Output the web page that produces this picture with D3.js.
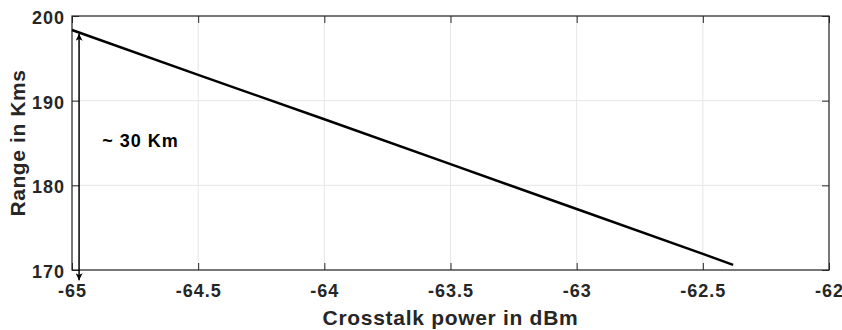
<!DOCTYPE html>
<html>
<head>
<meta charset="utf-8">
<script src="https://cdn.jsdelivr.net/npm/d3@7"></script>
<style>
  html, body { margin: 0; padding: 0; background: #fff; }
  svg { display: block; font-family: "Liberation Sans", Arial, sans-serif; }
</style>
</head>
<body>
<svg id="chart" width="842" height="330"></svg>
<script>
// Range versus crosstalk power
const crosstalkDbm = [-65, -64.5, -64, -63.5, -63, -62.5, -62.38];
const rangeKm      = [198.35, 193.05, 187.8, 182.5, 177.2, 171.9, 170.6];

const xTicks = [-65, -64.5, -64, -63.5, -63, -62.5, -62];
const yTicks = [170, 180, 190, 200];

// Double-headed span marker and its note
const spanX = [-64.972, -64.972];
const spanY = [197.9, 168.8];
const spanNote = "~ 30 Km";
const spanNoteAt = [-64.88, 184.5];

const xLabel = "Crosstalk power in dBm";
const yLabel = "Range in Kms";

const W = 842, H = 330;
const m = { left: 72, right: 13, top: 16, bottom: 60 };
const pw = W - m.left - m.right, ph = H - m.top - m.bottom;
const ink = "#262626";
const plain = d => String(d);   // keeps ASCII hyphen-minus

const svg = d3.select("#chart");
const defs = svg.append("defs");
["start", "end"].forEach(k => {
  defs.append("marker")
    .attr("id", "head-" + k)
    .attr("viewBox", "0 0 10 10")
    .attr("refX", 10).attr("refY", 5)
    .attr("markerWidth", 10).attr("markerHeight", 7)
    .attr("markerUnits", "userSpaceOnUse")
    .attr("orient", k === "start" ? "auto-start-reverse" : "auto")
    .append("path").attr("d", "M0,0 L10,5 L0,10 L2.5,5 Z").attr("fill", "#000");
});

const x = d3.scaleLinear().domain([-65, -62]).range([0, pw]);
const y = d3.scaleLinear().domain([170, 200]).range([ph, 0]);

const g = svg.append("g").attr("transform", `translate(${m.left},${m.top})`);

// grid
g.append("g").selectAll("line").data(xTicks).join("line")
  .attr("x1", d => x(d)).attr("x2", d => x(d)).attr("y1", 0).attr("y2", ph)
  .attr("stroke", "#e6e6e6").attr("stroke-width", 1);
g.append("g").selectAll("line").data(yTicks).join("line")
  .attr("y1", d => y(d)).attr("y2", d => y(d)).attr("x1", 0).attr("x2", pw)
  .attr("stroke", "#e6e6e6").attr("stroke-width", 1);

// axes with inward ticks
const tickStyle = sel => {
  sel.select(".domain").remove();
  sel.selectAll(".tick line").attr("stroke", ink).attr("stroke-width", 1);
  sel.selectAll(".tick text")
    .attr("fill", ink).attr("font-size", 18).attr("font-weight", "bold")
    .attr("letter-spacing", 1);
};
g.append("g").attr("transform", `translate(0,${ph})`)
  .call(d3.axisBottom(x).tickValues(xTicks).tickFormat(plain).tickSizeInner(-7).tickPadding(14))
  .call(tickStyle)
  .call(s => s.selectAll(".tick text").attr("dy", "0.71em"));
g.append("g")
  .call(d3.axisTop(x).tickValues(xTicks).tickFormat("").tickSizeInner(-7))
  .call(tickStyle);
g.append("g")
  .call(d3.axisLeft(y).tickValues(yTicks).tickFormat(plain).tickSizeInner(-7).tickPadding(7))
  .call(tickStyle)
  .call(s => s.selectAll(".tick text").attr("dy", "0.42em"));
g.append("g").attr("transform", `translate(${pw},0)`)
  .call(d3.axisRight(y).tickValues(yTicks).tickFormat("").tickSizeInner(-7))
  .call(tickStyle);

// frame
g.append("rect").attr("x", 0).attr("y", 0).attr("width", pw).attr("height", ph)
  .attr("fill", "none").attr("stroke", ink).attr("stroke-width", 1.2);

// data line
const pts = crosstalkDbm.map((d, i) => [d, rangeKm[i]]);
g.append("path").datum(pts)
  .attr("d", d3.line().x(d => x(d[0])).y(d => y(d[1])))
  .attr("fill", "none").attr("stroke", "#000").attr("stroke-width", 2.5);

// span marker
g.append("line")
  .attr("x1", x(spanX[0])).attr("y1", y(spanY[0]))
  .attr("x2", x(spanX[1])).attr("y2", y(spanY[1]))
  .attr("stroke", "#000").attr("stroke-width", 1.5)
  .attr("marker-start", "url(#head-start)").attr("marker-end", "url(#head-end)");
g.append("text")
  .attr("x", x(spanNoteAt[0])).attr("y", y(spanNoteAt[1]))
  .attr("font-size", 18).attr("font-weight", "bold").attr("letter-spacing", 1)
  .attr("fill", "#000").text(spanNote);

// axis titles
svg.append("text")
  .attr("x", m.left + pw / 2).attr("y", 325)
  .attr("text-anchor", "middle").attr("font-size", 21).attr("font-weight", "bold")
  .attr("letter-spacing", 0.7).attr("fill", ink).text(xLabel);
svg.append("text")
  .attr("transform", `translate(25,${m.top + ph / 2}) rotate(-90)`)
  .attr("text-anchor", "middle").attr("font-size", 21).attr("font-weight", "bold")
  .attr("letter-spacing", 0.6).attr("fill", ink).text(yLabel);
</script>
</body>
</html>
